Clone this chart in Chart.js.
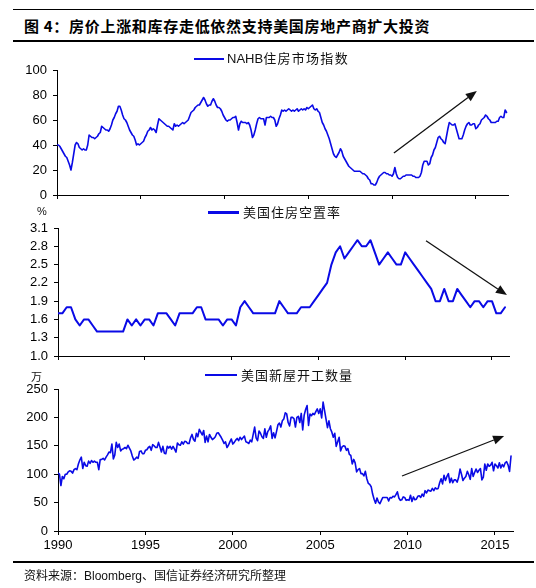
<!DOCTYPE html>
<html><head><meta charset="utf-8">
<script src="https://cdn.jsdelivr.net/npm/chart.js@4.4.0/dist/chart.umd.min.js"></script>
<style>
html,body{margin:0;padding:0;background:#fff;}
#wrap{position:relative;width:536px;height:588px;overflow:hidden;background:#fff;}
canvas{position:absolute;left:0;top:0;}
.t{position:absolute;white-space:nowrap;color:#111;}
.hr{position:absolute;background:#000;}
.lg{position:absolute;background:#0a0ae6;}
.cjk{font-family:"Noto Sans CJK SC";}
.lat{font-family:"Liberation Sans",Arial,sans-serif;}
</style></head><body>
<div id="wrap">
  <div class="hr" style="left:13px;top:9px;width:521px;height:1px"></div>
  <div class="t cjk" style="left:24px;top:16px;font-size:15px;font-weight:bold;line-height:20px;letter-spacing:0.7px;color:#000">图 4：房价上涨和库存走低依然支持美国房地产商扩大投资</div>
  <div class="hr" style="left:13px;top:40px;width:521px;height:1.5px"></div>

  <canvas id="c1" width="536" height="588"></canvas>
  <canvas id="c2" width="536" height="588"></canvas>
  <canvas id="c3" width="536" height="588"></canvas>

  <div class="lg" style="left:194px;top:58px;width:30px;height:2px"></div>
  <div class="t" style="left:227px;top:50px;line-height:16px"><span class="lat" style="font-size:13px">NAHB</span><span class="cjk" style="font-size:13px;letter-spacing:1.3px">住房市场指数</span></div>

  <div class="t lat" style="left:37px;top:203px;font-size:11px;line-height:16px">%</div>
  <div class="lg" style="left:208px;top:211px;width:31px;height:3px"></div>
  <div class="t cjk" style="left:243px;top:204px;font-size:13px;line-height:16px;letter-spacing:1px">美国住房空置率</div>

  <div class="t cjk" style="left:31px;top:368px;font-size:11px;line-height:16px">万</div>
  <div class="lg" style="left:205px;top:374px;width:32px;height:2px"></div>
  <div class="t cjk" style="left:241px;top:367px;font-size:13px;line-height:16px;letter-spacing:1px">美国新屋开工数量</div>

  <div class="hr" style="left:13px;top:561px;width:521px;height:1.5px"></div>
  <div class="t" style="left:24px;top:567px;line-height:16px;font-size:12px"><span class="cjk">资料来源：</span><span class="lat">Bloomberg</span><span class="cjk">、国信证券经济研究所整理</span></div>
</div>
<script>
// ---- tick labels ----
const xTickYears = [1990, 1995, 2000, 2005, 2010, 2015];
const nahbYTicks = [0, 20, 40, 60, 80, 100];
const vacancyYTicks = [1.0, 1.3, 1.6, 1.9, 2.2, 2.5, 2.8, 3.1];
const startsYTicks = [0, 50, 100, 150, 200, 250];

// ---- NAHB housing market index, monthly from 1990 ----
const nahbIndex = [
  40,40,39,37,35,33,31,30,27,24,20,26,
  33,40,42,41,38,37,36,37,36,36,40,48,
  47,46,46,45,46,47,49,50,55,54,53,52,
  52,51,53,56,60,62,65,67,71,71,68,64,
  61,60,58,55,52,50,48,47,44,40,41,40,
  41,42,43,46,48,51,52,54,52,53,52,50,
  56,61,60,59,58,57,56,55,55,54,53,52,
  57,55,56,55,56,57,58,57,58,59,60,63,
  66,67,68,70,71,72,72,74,76,78,76,73,
  71,72,72,75,77,75,72,70,70,69,67,64,
  62,60,59,60,60,61,62,62,63,58,52,57,
  59,58,58,58,57,58,56,52,46,48,52,57,
  61,62,61,61,61,56,62,62,62,63,62,62,
  60,55,57,61,64,68,67,68,67,68,69,68,
  67,68,67,68,69,67,68,69,68,69,68,70,
  69,70,71,72,69,68,69,67,66,62,58,56,
  53,51,48,45,41,37,33,31,30,32,34,37,
  35,31,29,27,25,23,22,21,20,19,19,19,
  19,19,18,17,17,16,15,13,12,9,9,8,
  8,10,13,15,16,17,18,18,17,17,16,16,
  15,17,22,17,14,13,13,14,15,15,16,16,
  16,16,16,15,15,14,14,14,15,18,24,27,
  27,27,24,25,30,32,36,38,42,46,47,45,
  44,42,41,47,53,58,57,56,56,57,53,49,
  45,45,45,48,52,55,57,58,56,56,57,57,
  53,54,56,57,60,61,62,64,63,61,60,58,
  58,58,58,59,59,62,63,62,62,68,66
];

// ---- homeowner vacancy rate (%), quarterly from 1990 ----
const vacancyRate = [
  1.7,1.7,1.8,1.8,1.6,1.5,1.6,1.6,1.5,1.4,
  1.4,1.4,1.4,1.4,1.4,1.4,1.6,1.5,1.6,1.5,
  1.6,1.6,1.5,1.7,1.7,1.7,1.6,1.5,1.7,1.7,
  1.7,1.7,1.8,1.8,1.6,1.6,1.6,1.6,1.5,1.6,
  1.6,1.5,1.8,1.9,1.8,1.7,1.7,1.7,1.7,1.7,
  1.7,1.9,1.8,1.7,1.7,1.7,1.8,1.8,1.8,1.9,
  2.0,2.1,2.2,2.5,2.7,2.8,2.6,2.7,2.8,2.9,
  2.8,2.8,2.9,2.7,2.5,2.6,2.7,2.6,2.5,2.5,
  2.7,2.6,2.5,2.4,2.3,2.2,2.1,1.9,1.9,2.1,
  1.9,1.9,2.1,2.0,1.9,1.8,1.9,1.9,1.8,1.9,
  1.9,1.7,1.7,1.8
];

// ---- housing starts (10k units), monthly from 1990 ----
const housingStarts = [
  102,100,
  80,96,92,100,100,104,106,105,102,108,110,108,
  118,125,130,110,121,115,114,123,119,124,121,123,
  121,121,108,126,126,128,125,130,134,139,138,153,
  127,134,156,147,153,141,144,145,147,145,151,146,
  141,132,125,127,130,128,140,141,136,136,142,143,
  147,149,142,152,150,147,147,156,148,139,149,137,
  136,149,146,149,144,149,144,139,155,152,151,157,
  153,158,157,154,154,164,170,161,158,172,166,179,
  174,169,177,156,167,157,170,165,161,163,166,172,
  173,169,165,160,154,157,147,151,157,162,153,156,
  160,163,159,165,161,164,167,157,156,154,160,157,
  170,183,164,159,176,172,166,163,180,165,175,179,
  185,163,173,164,175,187,190,183,194,197,208,206,
  191,185,200,200,198,183,200,202,191,207,178,204,
  214,221,186,206,203,207,205,210,215,207,215,199,
  227,212,197,182,194,180,174,165,172,149,157,165,
  141,148,150,149,142,145,135,133,118,126,120,104,
  108,110,101,101,97,105,92,84,82,78,65,56,
  49,58,51,48,54,59,59,59,59,53,59,58,
  61,60,64,69,58,54,55,60,59,54,55,54,
  63,52,60,55,56,61,62,59,65,61,71,67,
  72,71,70,75,71,76,74,75,85,92,83,98,
  89,96,101,85,93,85,90,90,86,94,109,100,
  89,93,96,105,99,91,110,96,103,109,103,107,
  110,90,95,118,107,118,114,116,121,106,118,115,
  111,120,111,117,113,120,122,116,105,132
];

// ---- trend arrows [fromYear, fromValue, toYear, toValue] ----
const nahbArrow = [2010.11, 33.6, 2015.06, 83.2];
const vacancyArrow = [2011.2, 2.89, 2015.86, 2.0];
const startsArrow = [2009.68, 96.8, 2015.52, 167.3];

const BLUE = '#0a0ae6';

function toPoints(values, startYear, step) {
  return values.map((v, i) => ({ x: startYear + i * step, y: v }));
}

const arrowPlugin = {
  id: 'trendArrow',
  afterDatasetsDraw(chart, args, opts) {
    const a = opts.arrow; if (!a) return;
    const xs = chart.scales.x, ys = chart.scales.y, ctx = chart.ctx;
    const x1 = xs.getPixelForValue(a[0]), y1 = ys.getPixelForValue(a[1]);
    const x2 = xs.getPixelForValue(a[2]), y2 = ys.getPixelForValue(a[3]);
    const ang = Math.atan2(y2 - y1, x2 - x1);
    const L = 11, W = 4.5;
    const bx = x2 - L * Math.cos(ang), by = y2 - L * Math.sin(ang);
    ctx.save();
    ctx.strokeStyle = '#111'; ctx.lineWidth = 1.3;
    ctx.beginPath(); ctx.moveTo(x1, y1); ctx.lineTo(bx, by); ctx.stroke();
    ctx.fillStyle = '#111';
    ctx.beginPath(); ctx.moveTo(x2, y2);
    ctx.lineTo(bx + W * Math.sin(ang), by - W * Math.cos(ang));
    ctx.lineTo(bx - W * Math.sin(ang), by + W * Math.cos(ang));
    ctx.closePath(); ctx.fill();
    ctx.restore();
  }
};

const tickFont = { family: '"Liberation Sans", Arial, sans-serif', size: 13 };

function makeChart(id, c) {
  return new Chart(document.getElementById(id), {
    type: 'line',
    data: { datasets: [{
      data: c.points, borderColor: BLUE, borderWidth: c.lw, pointRadius: 0,
      fill: false, tension: 0, borderJoinStyle: 'round', borderCapStyle: 'round'
    }] },
    options: {
      responsive: false, animation: false, devicePixelRatio: 1,
      layout: { padding: c.pad },
      plugins: { legend: { display: false }, tooltip: { enabled: false }, trendArrow: { arrow: c.arrow } },
      scales: {
        x: {
          type: 'linear', min: 1990, max: c.xMax,
          afterBuildTicks(s) { s.ticks = xTickYears.map(v => ({ value: v })); },
          afterFit(s) { s.height = 20; },
          grid: { display: true, drawOnChartArea: false, drawTicks: true, tickLength: 4, color: '#000', lineWidth: 1 },
          border: { display: true, color: '#000', width: 1 },
          ticks: { display: c.showX, color: '#000', font: tickFont, padding: 3, maxRotation: 0, autoSkip: false,
                   callback: v => String(v) }
        },
        y: {
          type: 'linear', min: c.yTicks[0], max: c.yTicks[c.yTicks.length - 1],
          afterBuildTicks(s) { s.ticks = c.yTicks.map(v => ({ value: v })); },
          afterFit(s) { s.width = 50; },
          grid: { display: true, drawOnChartArea: false, drawTicks: true, tickLength: 4, color: '#000', lineWidth: 1 },
          border: { display: true, color: '#000', width: 1 },
          ticks: { color: '#000', font: tickFont, padding: 6, autoSkip: false,
                   callback: v => c.dec ? Number(v).toFixed(1) : String(v) }
        }
      }
    },
    plugins: [arrowPlugin]
  });
}

makeChart('c1', { points: toPoints(nahbIndex, 1990, 1/12), lw: 1.6, xMax: 2016.92,
  yTicks: nahbYTicks, dec: false, showX: false, arrow: nahbArrow,
  pad: { left: 7, right: 28, top: 70, bottom: 373 } });
makeChart('c2', { points: toPoints(vacancyRate, 1990, 1/4), lw: 2, xMax: 2015.98,
  yTicks: vacancyYTicks, dec: true, showX: false, arrow: vacancyArrow,
  pad: { left: 8, right: 27, top: 228, bottom: 212 } });
makeChart('c3', { points: toPoints(housingStarts, 1990, 1/12), lw: 1.6, xMax: 2016.03,
  yTicks: startsYTicks, dec: false, showX: true, arrow: startsArrow,
  pad: { left: 8, right: 23, top: 389, bottom: 37 } });
</script>
</body></html>
